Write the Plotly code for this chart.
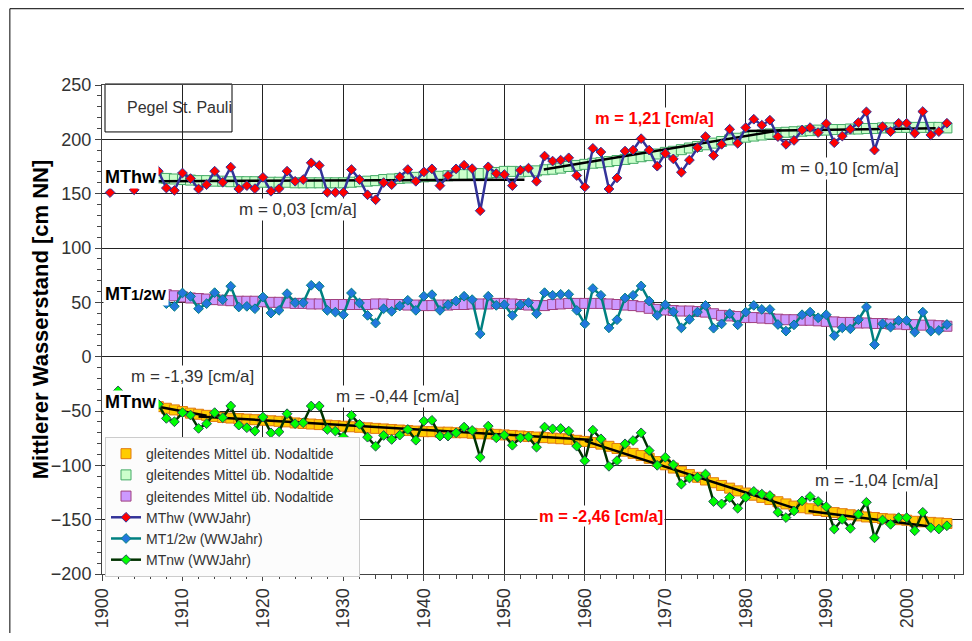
import plotly.graph_objects as go

# ---------------- data ----------------
thw_iso_years = [1901, 1904]
thw_iso_vals = [151, 153.5]
tnw_iso_years = [1902]
tnw_iso_vals = [-31.5]

thw_start = 1907
mthw = [170.7, 155.2, 153, 169, 163.9, 154.3, 158.3, 170.7, 160.5, 174.4,
        154.3, 157.4, 154.6, 165, 152.2, 154.6, 170.7, 161.4, 163, 178.4,
        176, 151.2, 151.2, 151.2, 172.2, 163, 149, 144.4, 160.2, 158.3,
        165.4, 172.2, 161.4, 170, 172.8, 157.4, 166.7, 172.8, 176.2, 173,
        134.3, 174.7, 168.5, 167.6, 157.4, 171.6, 173.5, 161.4, 184.6, 180,
        180.9, 183, 166.7, 156.2, 191.7, 188.3, 154.3, 164.5, 189.2, 190.1,
        200.6, 190.1, 175.3, 187, 182, 169.7, 180.9, 192.3, 202.5, 185.2,
        195.4, 209.3, 196.3, 210.8, 218.5, 213, 217.6, 202.5, 195.4, 199,
        208.6, 210.8, 206.2, 214.5, 196.9, 203, 209.3, 215.4, 225.3, 190.1,
        211.7, 207.1, 214.8, 214.8, 205.6, 225.6, 204, 207.1, 214.8]

t12_start = 1908
mt12w = [48.8, 46.3, 58.6, 55.5, 44.1, 48.8, 58.9, 52.5, 64.8, 45.7,
         46.3, 44.1, 54.9, 40.1, 42.6, 58, 49.7, 49.7, 65.7, 64.8,
         42.6, 41, 38.6, 58.6, 49.4, 38, 30.9, 44.1, 41.7, 46.6,
         51.9, 42.6, 55.6, 57.1, 42.6, 47.8, 51.2, 55.6, 52.5, 21,
         55.6, 47.2, 47.8, 38, 47.8, 49.7, 39.5, 58.9, 56.5, 57.4,
         57.4, 42.6, 30.2, 62.7, 56.5, 26.5, 34, 54, 56.5, 65.1,
         51.2, 38, 47.8, 41.3, 26.5, 34.3, 41, 47.2, 26.2, 30.2,
         39.5, 29.3, 41, 47.2, 43.5, 43.5, 29.6, 23.5, 29.3, 38.6,
         41, 35.8, 38.6, 19.4, 26.5, 25.6, 34, 45.7, 11.1, 30.2,
         27.2, 33.3, 33.3, 22.5, 41, 23.5, 24.1, 29.6]

tnw_start = 1907
mtnw = [-43.8, -56.8, -59.9, -51.5, -53.7, -66, -61.7, -51.5, -56.2, -45.4,
        -63, -65.4, -68.5, -55.6, -70.1, -69.1, -52.5, -61.7, -60.8, -45.4,
        -45.4, -67, -68.5, -73.8, -54, -62.3, -74.1, -82.4, -72.5, -76.2,
        -72.2, -67, -76.9, -59.3, -58.6, -73.1, -73.1, -70.1, -64.8, -67.9,
        -92.6, -63.9, -74.7, -72.2, -81.5, -74.7, -73.8, -83.3, -64.8, -66.4,
        -66.1, -68.5, -82.4, -95.7, -67.6, -75.6, -100.9, -95.7, -80.2, -77.2,
        -70.1, -86.4, -100, -92.6, -99.4, -117.3, -111.7, -111, -108, -133.3,
        -135.5, -129.6, -139.5, -129.6, -124, -126.5, -127.8, -143.2, -148.1, -142,
        -132.7, -128.7, -133.3, -138, -158.6, -149.7, -158, -145, -134, -166.7,
        -150.3, -154.3, -148.1, -148.1, -160.2, -143.2, -157.4, -158.6, -155.6]

# gleitendes Mittel (moving averages)
avg_thw_start = 1907
avg_thw = [164.5, 164, 163.5, 163, 162.5, 162, 162, 161.5, 161.5, 161,
           161, 161, 161, 160.5, 160.5, 160.5, 160.5, 160, 160, 160,
           160, 160, 160, 160, 160.5, 161, 161.5, 162, 163, 163.5,
           164, 164.5, 165, 165.5, 166, 166, 166.5, 167, 167.5, 168,
           168.5, 169, 169.5, 170.5, 170.5, 170, 170.5, 171, 172, 172.5,
           173.5, 175, 176, 177, 178, 178.5, 179.5, 180.5, 181.5, 182.5,
           184, 185, 186.5, 188, 189, 190.5, 192, 193.5, 195, 196.5,
           198, 199.5, 201, 202, 203, 204, 205, 206, 206.5, 207,
           207.5, 208, 208.5, 208.5, 209, 209, 209.5, 209.5, 210, 210,
           210.5, 210.5, 211, 211, 211, 211, 211, 211, 210.5]

avg_t12_start = 1908
avg_t12 = [57, 56, 55, 54, 53.5, 53, 52.5, 52, 51.5, 51,
           51, 51, 50.5, 50, 50, 49.5, 49, 49, 48.5, 48.5,
           48, 48, 48, 48, 48, 48, 48.5, 48.5, 48, 48,
           47.5, 47.5, 47, 47, 47.5, 47.5, 48, 48, 48.5, 48.5,
           48.5, 49, 49, 48.5, 48, 47.5, 47, 47, 48, 48.5,
           49, 49, 49, 49, 49, 48.5, 48, 47.5, 47, 46,
           44.5, 43.5, 43, 42.5, 42, 42, 41.5, 41, 39.5, 38,
           37.5, 37, 36, 36, 35.5, 35, 34.5, 34, 34, 33.5,
           33.5, 33, 32.5, 32, 31.5, 31.5, 31, 31, 30.5, 30.5,
           30, 30, 29.5, 29.5, 29, 29, 28.5, 28]

avg_tnw_start = 1907
avg_tnw = [-46, -47.5, -49, -50.5, -52, -53, -54, -55, -56, -56.5,
           -57, -57.5, -58, -58.5, -59, -59.5, -60, -61, -61.5, -62,
           -62.5, -63, -63.5, -64, -64.5, -65, -65.5, -66, -66.5, -67,
           -67.5, -68, -68.5, -69, -69, -69.5, -69.5, -70, -70, -70.5,
           -71, -71, -71.5, -72, -72.5, -73, -73.5, -74, -74.5, -75,
           -75.5, -76, -77, -78, -79, -80.5, -82.5, -84.5, -87, -89,
           -91, -93.5, -96.5, -99.5, -102.5, -105.5, -108.5, -111, -113.5, -116,
           -118.5, -121, -123.5, -125.5, -127.5, -129.5, -131.5, -133.5, -135.5, -137.5,
           -139, -140, -141.5, -142.5, -143.5, -144.5, -145.5, -146.5, -147.5, -148,
           -149, -149.5, -150, -150.5, -151.5, -152, -152.5, -153, -153.5]

# linear trend segments: (year0, year1, value0, value1)
thw_trends = [(1907, 1952.5, 161.5, 162.9),
              (1954.9, 1984.3, 172.2, 208.3),
              (1979.7, 2003.6, 207.7, 210.2)]
tnw_trends = [(1907, 1913, -46, -54.3),
              (1912, 1961, -55, -76.6),
              (1960, 1986.5, -77.5, -140.5),
              (1987.8, 2002.7, -142, -156)]

slope_labels = ["m = 0,03 [cm/a]", "m = 1,21 [cm/a]", "m = 0,10 [cm/a]",
                "m = -1,39 [cm/a]", "m = -0,44 [cm/a]", "m = -2,46 [cm/a]",
                "m = -1,04 [cm/a]"]
legend_avg = "gleitendes Mittel üb. Nodaltide"
x_ticks = list(range(1900, 2001, 10))
y_ticks = list(range(-200, 251, 50))

FONT = "Liberation Sans, Arial, sans-serif"
TXT = "#333333"
PAD = "\u00a0" * 5   # widens the legend box a little

def yrs(start, vals):
    return list(range(start, start + len(vals)))

fig = go.Figure()

# moving averages
fig.add_trace(go.Scatter(x=yrs(avg_tnw_start, avg_tnw), y=avg_tnw, mode="markers",
                         name=legend_avg + PAD, legendrank=1,
                         marker=dict(symbol="square", size=10, color="#ffcc00",
                                     line=dict(color="#e07a10", width=1))))
fig.add_trace(go.Scatter(x=yrs(avg_thw_start, avg_thw), y=avg_thw, mode="markers",
                         name=legend_avg, legendrank=2,
                         marker=dict(symbol="square", size=10, color="#ccffcc",
                                     line=dict(color="#44aa66", width=1))))
fig.add_trace(go.Scatter(x=yrs(avg_t12_start, avg_t12), y=avg_t12, mode="markers",
                         name=legend_avg, legendrank=3,
                         marker=dict(symbol="square", size=10, color="#cc99ff",
                                     line=dict(color="#a04080", width=1))))

# trend lines
for (x0, x1, v0, v1) in thw_trends + tnw_trends:
    fig.add_trace(go.Scatter(x=[x0, x1], y=[v0, v1], mode="lines", showlegend=False,
                             line=dict(color="black", width=2.5), hoverinfo="skip"))

# yearly series (isolated early values separated by gaps)
fig.add_trace(go.Scatter(x=[thw_iso_years[0], 1902, thw_iso_years[1], 1905] + yrs(thw_start, mthw),
                         y=[thw_iso_vals[0], None, thw_iso_vals[1], None] + mthw,
                         mode="lines+markers", name="MThw (WWJahr)", legendrank=4,
                         line=dict(color="#333399", width=2.5),
                         marker=dict(symbol="diamond", size=7.5, color="#ff0000",
                                     line=dict(color="#333399", width=1))))
fig.add_trace(go.Scatter(x=yrs(t12_start, mt12w), y=mt12w,
                         mode="lines+markers", name="MT1/2w (WWJahr)", legendrank=5,
                         line=dict(color="#008080", width=2.5),
                         marker=dict(symbol="diamond", size=7.5, color="#2277dd",
                                     line=dict(color="#008080", width=1))))
fig.add_trace(go.Scatter(x=[tnw_iso_years[0], 1903] + yrs(tnw_start, mtnw),
                         y=[tnw_iso_vals[0], None] + mtnw,
                         mode="lines+markers", name="MTnw (WWJahr)", legendrank=6,
                         line=dict(color="#003300", width=2.5),
                         marker=dict(symbol="diamond", size=7.5, color="#00ff00",
                                     line=dict(color="#225555", width=1))))

ann = []
slope_pos = [(1924.3, 135, False), (1968.6, 219.6, True), (1991.7, 173.6, False),
             (1911.2, -17.8, False), (1936.7, -37.1, False), (1962.0, -146.6, True),
             (1996.2, -114.4, False)]
for txt, (x, y, red) in zip(slope_labels, slope_pos):
    ann.append(dict(x=x, y=y, xref="x", yref="y", showarrow=False,
                    xanchor="center", yanchor="middle",
                    text=("<b>%s</b>" % txt) if red else txt,
                    font=dict(family=FONT, size=16.5 if red else 17,
                              color="#ff0000" if red else TXT),
                    bgcolor="white", borderpad=1))
for txt, y in [("<b>MThw</b>", 165.3),
               ("<b>MT<span style='font-size:15px'>1/2W</span></b>", 57.7),
               ("<b>MTnw</b>", -41.7)]:
    ann.append(dict(x=1900.1, y=y, xref="x", yref="y", xanchor="left", yanchor="middle",
                    showarrow=False, text=txt,
                    font=dict(family=FONT, size=18, color="black"),
                    bgcolor="white", borderpad=1))
ann.append(dict(x=0.0895, y=0.953, xref="paper", yref="paper", showarrow=False,
                xanchor="center", yanchor="middle",
                text="Pegel St. Pauli", font=dict(family=FONT, size=16, color=TXT)))
ann.append(dict(x=-0.072, y=0.519, xref="paper", yref="paper", showarrow=False,
                xanchor="center", yanchor="middle", textangle=-90,
                text="<b>Mittlerer Wasserstand [cm NN]</b>",
                font=dict(family=FONT, size=22, color="black")))

shapes = [
    dict(type="rect", xref="paper", yref="paper", x0=0.0035, x1=0.151, y0=0.904, y1=1.002,
         line=dict(color="black", width=1), fillcolor="white", layer="below"),
    dict(type="line", xref="paper", yref="paper", x0=-0.107, x1=-0.107, y0=-0.2, y1=1.156,
         line=dict(color="black", width=1)),
    dict(type="line", xref="paper", yref="paper", x0=-0.107, x1=1.02, y0=1.156, y1=1.156,
         line=dict(color="black", width=1)),
]

fig.update_layout(
    width=956, height=625,
    margin=dict(l=94, r=1, t=77, b=59),
    paper_bgcolor="white", plot_bgcolor="white",
    font=dict(family=FONT, color=TXT),
    showlegend=True,
    legend=dict(x=0.0035, y=0.28, xanchor="left", yanchor="top",
                bgcolor="#fcfcfc", bordercolor="#cccccc", borderwidth=1,
                font=dict(family=FONT, size=14, color=TXT), tracegroupgap=0),
    annotations=ann, shapes=shapes,
    xaxis=dict(range=[1900, 2007], tickvals=x_ticks, tickangle=-90,
               tickfont=dict(family=FONT, size=18, color=TXT), ticklabelstandoff=0,
               showgrid=True, gridcolor="#222222", gridwidth=1,
               showline=True, linecolor="#444444", linewidth=1, mirror=True,
               ticks="outside", ticklen=6, tickcolor="#444444",
               minor=dict(dtick=2, ticks="outside", ticklen=4, tickcolor="#444444", showgrid=False),
               zeroline=False),
    yaxis=dict(range=[-200, 250], tickvals=y_ticks,
               tickfont=dict(family=FONT, size=18, color=TXT),
               showgrid=True, gridcolor="#222222", gridwidth=1,
               showline=True, linecolor="#444444", linewidth=1, mirror=True,
               ticks="outside", ticklen=6, tickcolor="#444444",
               minor=dict(dtick=10, ticks="outside", ticklen=4, tickcolor="#444444", showgrid=False),
               zeroline=False),
)

fig.write_html("out.html")
